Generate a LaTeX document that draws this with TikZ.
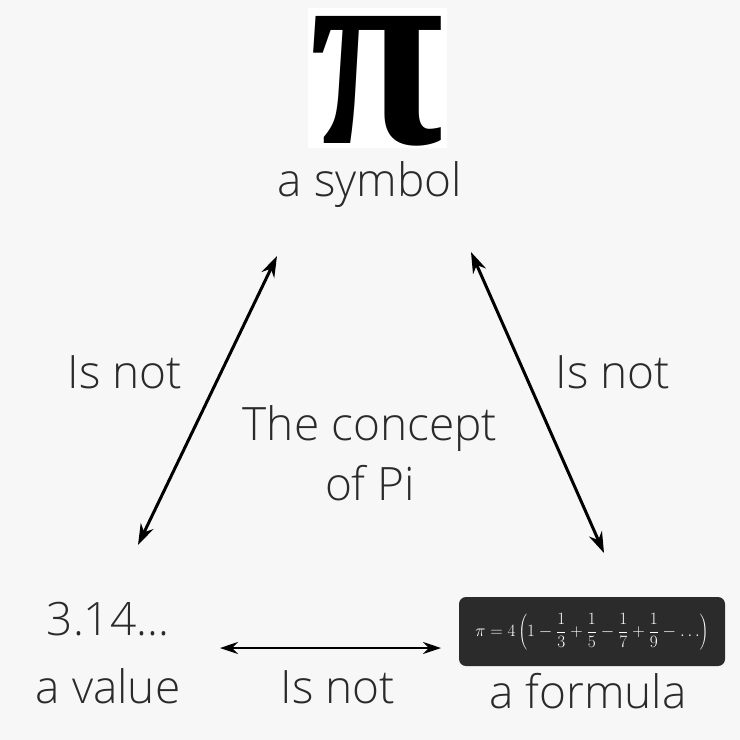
\documentclass[tikz,border=0pt]{standalone}
\usepackage{fontspec}
\setmainfont{Open Sans Light}
\newfontfamily\pifont{Liberation Serif}
\usetikzlibrary{arrows.meta}
\definecolor{bg}{HTML}{F7F7F7}
\definecolor{txt}{HTML}{2A2A2A}
\definecolor{boxc}{HTML}{2B2B2B}
\tikzset{
  lbl/.style={text=txt, font=\fontsize{46}{52}\selectfont, inner sep=0pt, align=center},
  dbl/.style={line width=3pt, {Stealth[length=21pt,width=14pt]}-{Stealth[length=21pt,width=14pt]}},
}
\begin{document}
\begin{tikzpicture}[x=1pt,y=-1pt]
\fill[bg] (0,0) rectangle (740,740);
\useasboundingbox (0,0) rectangle (740,740);
\fill[white] (308,8) rectangle (447,148);
\node[inner sep=0pt] (pi) at (377,81) {\resizebox{133pt}{127pt}{\pifont\bfseries π}};
\node[lbl, anchor=base] (sym) at (370,196) {a symbol};
\node[lbl] (isl) at (125,372) {Is not};
\node[lbl] (isr) at (613,372) {Is not};
\node[lbl, anchor=base] (con1) at (370,440) {The concept};
\node[lbl, anchor=base] (con2) at (370,500) {of Pi};
\node[lbl, anchor=base] (val1) at (108,635) {3.14...};
\node[lbl, anchor=base] (val2) at (108,703) {a value};
\node[lbl, anchor=base] (isb) at (338,703) {Is not};
\node[lbl, anchor=base] (form) at (588,708) {a formula};
\node[fill=boxc, rounded corners=7pt, minimum width=266pt, minimum height=69pt, inner sep=0pt, text=white,
      font=\fontsize{16.5}{20}\selectfont] (fbox) at (592,631.5)
  {$\displaystyle \pi = 4\left(1-\frac{1}{3}+\frac{1}{5}-\frac{1}{7}+\frac{1}{9}-\ldots\right)$};
\coordinate (a1) at (277,256);
\coordinate (a2) at (138,545);
\coordinate (b1) at (471,252);
\coordinate (b2) at (604,553);
\coordinate (c1) at (220,648);
\coordinate (c2) at (441,648);
\draw[dbl] (a2) -- (a1);
\draw[dbl] (b1) -- (b2);
\draw[line width=2.2pt, {Stealth[length=18pt,width=12pt]}-{Stealth[length=18pt,width=12pt]}] (c1) -- (c2);
\end{tikzpicture}
\end{document}
